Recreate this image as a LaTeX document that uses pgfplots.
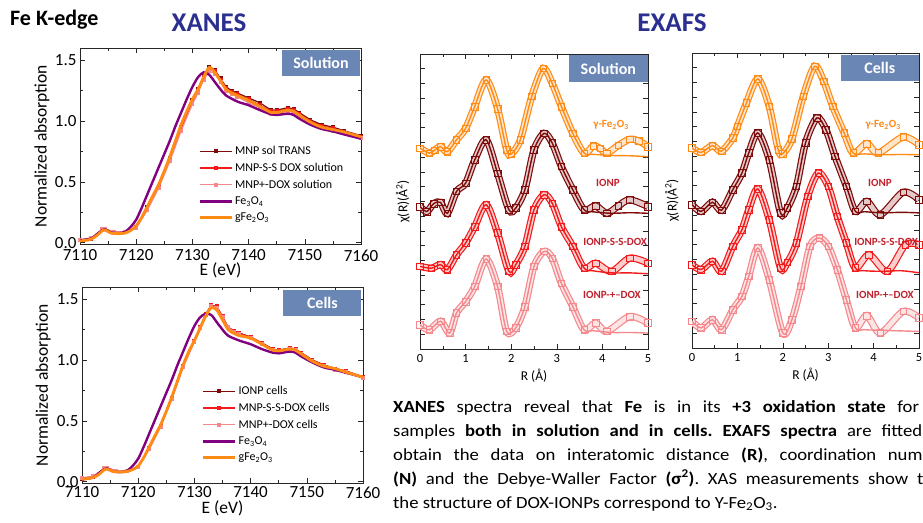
\documentclass[border=0pt]{standalone}
\usepackage{pgfplots}
\pgfplotsset{compat=1.18}
\usepackage{pgfplotstable}
\usepackage{fontspec}
\setmainfont{Carlito}
\newfontfamily\parafont[FakeStretch=1.1]{Carlito}
\definecolor{navy}{HTML}{2B3090}
\definecolor{boxblue}{HTML}{6A86B5}
\definecolor{cpurple}{HTML}{800080}
\definecolor{corange}{HTML}{FF8A14}
\definecolor{cdark}{HTML}{7E0A0A}
\definecolor{cred}{HTML}{F21A1A}
\definecolor{cpink}{HTML}{F4888C}
\definecolor{lblred}{HTML}{C0202C}

% ---------- EXAFS data (Solution) ----------
\pgfplotstableread{
R chi
0 6.81
0.2 6.64
0.32 6.74
0.45 6.86
0.6 6.69
0.8 7.09
1.0 7.48
1.2 8.22
1.45 9.12
1.7 8.15
1.9 6.75
2.0 6.61
2.2 7.09
2.45 8.56
2.7 9.51
2.9 9.0
3.1 8.22
3.35 7.31
3.6 6.64
3.8 6.88
3.95 6.8
4.1 6.64
4.35 6.9
4.6 7.11
4.8 7.05
5.0 6.86
}\SolGam
\pgfplotstableread{
R chi
0 6.81
0.2 6.64
0.32 6.74
0.45 6.86
0.6 6.69
0.8 7.09
1.0 7.48
1.2 8.22
1.45 9.12
1.7 8.15
1.9 6.75
2.0 6.61
2.2 7.09
2.45 8.56
2.7 9.51
2.9 9.0
3.1 8.22
3.35 7.31
3.6 6.64
3.8 6.6
4.2 6.56
4.6 6.55
5.0 6.52
}\SolGamFit
\pgfplotstableread{
R chi
0 4.83
0.15 4.66
0.3 4.93
0.45 4.97
0.6 4.6
0.8 5.34
1.0 5.62
1.2 6.41
1.45 7.09
1.7 5.96
1.95 4.72
2.1 4.78
2.3 5.4
2.5 6.75
2.72 7.31
2.9 6.98
3.1 6.19
3.35 5.4
3.6 4.72
3.85 4.85
4.1 4.6
4.35 4.85
4.6 5.06
5.0 4.83
}\SolIONP
\pgfplotstableread{
R chi
0 4.83
0.15 4.66
0.3 4.93
0.45 4.97
0.6 4.6
0.8 5.34
1.0 5.62
1.2 6.41
1.45 7.09
1.7 5.96
1.95 4.72
2.1 4.78
2.3 5.4
2.5 6.75
2.72 7.31
2.9 6.98
3.1 6.19
3.35 5.4
3.6 4.72
3.8 4.65
4.2 4.6
4.6 4.62
5.0 4.6
}\SolIONPFit
\pgfplotstableread{
R chi
0 2.8
0.25 2.74
0.45 2.86
0.6 2.69
0.8 3.19
1.0 3.59
1.2 4.15
1.45 4.89
1.7 3.93
1.95 2.63
2.1 2.86
2.3 3.48
2.5 4.72
2.72 5.23
2.9 4.94
3.1 4.15
3.35 3.48
3.6 2.74
3.85 2.91
4.2 2.63
4.6 3.08
5.0 2.91
}\SolSS
\pgfplotstableread{
R chi
0 2.8
0.25 2.74
0.45 2.86
0.6 2.69
0.8 3.19
1.0 3.59
1.2 4.15
1.45 4.89
1.7 3.93
1.95 2.63
2.1 2.86
2.3 3.48
2.5 4.72
2.72 5.23
2.9 4.94
3.1 4.15
3.35 3.48
3.6 2.74
3.8 2.65
4.2 2.58
4.6 2.58
5.0 2.55
}\SolSSFit
\pgfplotstableread{
R chi
0 0.82
0.2 0.65
0.45 0.94
0.65 0.54
0.8 1.22
1.0 1.61
1.2 2.12
1.45 3.05
1.7 2.12
1.9 0.6
2.1 0.72
2.3 1.44
2.5 2.8
2.72 3.31
2.9 3.08
3.1 2.23
3.35 1.44
3.6 0.65
3.85 0.88
4.1 0.6
4.6 1.1
5.0 0.88
}\SolPD
\pgfplotstableread{
R chi
0 0.82
0.2 0.65
0.45 0.94
0.65 0.54
0.8 1.22
1.0 1.61
1.2 2.12
1.45 3.05
1.7 2.12
1.9 0.6
2.1 0.72
2.3 1.44
2.5 2.8
2.72 3.31
2.9 3.08
3.1 2.23
3.35 1.44
3.6 0.65
3.8 0.62
4.2 0.56
4.6 0.56
5.0 0.54
}\SolPDFit

% ---------- EXAFS data (Cells) ----------
\pgfplotstableread{
R chi
0 6.78
0.2 6.63
0.45 6.86
0.65 6.67
0.9 7.12
1.0 7.51
1.2 8.31
1.45 9.12
1.7 8.19
1.9 6.72
2.0 6.59
2.2 7.09
2.45 8.53
2.7 9.55
2.9 9.04
3.1 8.19
3.35 7.29
3.55 6.61
3.85 6.93
4.1 6.61
4.65 7.15
5.0 6.89
}\CelGam
\pgfplotstableread{
R chi
0 6.78
0.2 6.63
0.45 6.86
0.65 6.67
0.9 7.12
1.0 7.51
1.2 8.31
1.45 9.12
1.7 8.19
1.9 6.72
2.0 6.59
2.2 7.09
2.45 8.53
2.7 9.55
2.9 9.04
3.1 8.19
3.35 7.29
3.55 6.61
3.8 6.58
4.2 6.55
4.6 6.56
5.0 6.55
}\CelGamFit
\pgfplotstableread{
R chi
0 4.86
0.2 4.63
0.45 4.94
0.65 4.67
0.9 5.37
1.1 5.93
1.25 6.61
1.45 7.29
1.7 6.38
1.95 4.58
2.1 4.75
2.3 5.48
2.5 6.95
2.75 7.8
2.95 7.4
3.15 6.5
3.4 5.48
3.6 4.63
3.85 4.97
4.15 4.52
4.65 5.28
5.0 5.03
}\CelIONP
\pgfplotstableread{
R chi
0 4.86
0.2 4.63
0.45 4.94
0.65 4.67
0.9 5.37
1.1 5.93
1.25 6.61
1.45 7.29
1.7 6.38
1.95 4.58
2.1 4.75
2.3 5.48
2.5 6.95
2.75 7.8
2.95 7.4
3.15 6.5
3.4 5.48
3.6 4.63
3.8 4.62
4.2 4.58
4.6 4.6
5.0 4.58
}\CelIONPFit
\pgfplotstableread{
R chi
0 2.82
0.2 2.66
0.45 2.94
0.65 2.6
0.9 3.45
1.1 4.01
1.25 4.69
1.45 5.39
1.7 4.35
1.95 2.71
2.1 2.9
2.3 3.56
2.55 5.14
2.78 5.93
3.0 5.48
3.2 4.46
3.4 3.56
3.6 2.71
3.9 3.16
4.3 2.6
4.7 3.5
5.0 3.5
}\CelSS
\pgfplotstableread{
R chi
0 2.82
0.2 2.66
0.45 2.94
0.65 2.6
0.9 3.45
1.1 4.01
1.25 4.69
1.45 5.39
1.7 4.35
1.95 2.71
2.1 2.9
2.3 3.56
2.55 5.14
2.78 5.93
3.0 5.48
3.2 4.46
3.4 3.56
3.6 2.71
3.8 2.62
4.2 2.6
4.6 2.62
5.0 2.55
}\CelSSFit
\pgfplotstableread{
R chi
0 0.9
0.2 0.68
0.45 0.96
0.65 0.62
0.9 1.3
1.1 1.75
1.25 2.43
1.45 3.39
1.7 2.32
2.0 0.51
2.2 0.96
2.4 2.09
2.6 3.45
2.8 3.73
3.0 3.45
3.2 2.66
3.4 1.64
3.6 0.68
3.85 1.1
4.15 0.51
4.65 1.24
5.0 1.02
}\CelPD
\pgfplotstableread{
R chi
0 0.9
0.2 0.68
0.45 0.96
0.65 0.62
0.9 1.3
1.1 1.75
1.25 2.43
1.45 3.39
1.7 2.32
2.0 0.51
2.2 0.96
2.4 2.09
2.6 3.45
2.8 3.73
3.0 3.45
3.2 2.66
3.4 1.64
3.6 0.68
3.8 0.62
4.2 0.6
4.6 0.58
5.0 0.56
}\CelPDFit

\tikzset{
 boxlbl/.style={fill=boxblue, text=white, font=\bfseries\fontsize{16}{19}\selectfont,
   minimum width=78pt, minimum height=26pt, anchor=north east, inner sep=0pt},
 smplbl/.style={font=\bfseries\fontsize{11}{13}\selectfont, inner sep=0pt},
}

\pgfplotsset{
 common/.style={
  scale only axis, anchor=south west,
  tick align=inside, major tick length=5pt, minor tick length=3pt,
  axis line style={line width=0.8pt, black!85},
  every tick/.style={line width=0.6pt, black!85},
  clip mode=individual,
 },
 xanes/.style={common,
  width=281pt, height=196pt,
  xmin=7110, xmax=7160, ymin=-0.01, ymax=1.6,
  xtick={7110,7120,7130,7140,7150,7160},
  xticklabels={7110,7120,7130,7140,7150,7160},
  ytick={0,0.5,1,1.5}, yticklabels={0.0,0.5,1.0,1.5},
  minor x tick num=1, minor y tick num=1,
  tick label style={font=\fontsize{17}{20}\selectfont},
  label style={font=\fontsize{17.5}{21}\selectfont},
  xlabel={E (eV)}, ylabel={Normalized absorption},
  legend style={draw=none, fill=none, font=\fontsize{12}{14}\selectfont,
     row sep=3pt, inner sep=0pt, anchor=north west},
  legend cell align=left,
  legend image code/.code={\draw[mark repeat=2, mark phase=2, ##1] plot coordinates {(0pt,0pt) (16pt,0pt) (32pt,0pt)};},
 },
 exafs/.style={common,
  width=228pt, height=295pt,
  xmin=0, xmax=5, ymin=0, ymax=10,
  xtick={0,1,2,3,4,5}, minor x tick num=1,
  ytick={0,0.5,...,10}, yticklabels={},
  tick label style={font=\fontsize{12.5}{15}\selectfont},
  label style={font=\fontsize{13.5}{16}\selectfont},
  xlabel={R (Å)}, ylabel={χ(R)(Å\textsuperscript{2})},
  /pgf/number format/assume math mode=true,
  xticklabel style={yshift=-2pt},
  xlabel style={at={(axis description cs:0.5,-0.09)}, anchor=center},
 },
 dat/.style={line width=1.2pt, mark=square*, mark size=1.4pt, #1, mark options={fill=#1, draw=#1}},
 tube/.style={smooth, line width=1.2pt, double=#1!22!white, double distance=4.8pt, draw=#1},
 sq/.style={only marks, mark=square, mark size=3.3pt, mark options={draw=#1, line width=0.6pt}},
 fit/.style={smooth, line width=1.4pt, draw=#1},
}

\begin{document}
\begin{tikzpicture}[x=1pt,y=1pt]
\useasboundingbox (0pt,0pt) rectangle (923pt,522pt);
\node[anchor=west, font=\bfseries\fontsize{22}{26}\selectfont, inner sep=0pt] at (10pt,502pt) {Fe K-edge};
\node[font=\bfseries\fontsize{27}{32}\selectfont, text=navy, inner sep=0pt] at (209pt,499pt) {XANES};
\node[font=\bfseries\fontsize{27}{32}\selectfont, text=navy, inner sep=0pt] at (672pt,499pt) {EXAFS};

% ===== XANES Solution =====
\begin{axis}[xanes, at={(80pt,278pt)},
  xticklabel style={yshift=-2pt},
  xlabel style={at={(axis description cs:0.5,-0.135)}, anchor=center},
  ylabel style={at={(axis description cs:-0.135,0.5)}, anchor=center},
  legend style={at={(axis description cs:0.42,0.51)}}]
\addplot[dat=cdark] coordinates {(7110,0.02) (7112,0.035) (7114,0.105) (7114.5,0.11) (7116,0.085) (7118,0.085) (7120,0.13) (7122,0.29) (7124,0.47) (7126,0.70) (7128,0.95) (7130,1.17) (7131,1.26) (7132,1.37) (7133,1.44) (7134,1.42) (7135,1.35) (7136,1.28) (7137,1.25) (7138,1.23) (7140,1.19) (7142,1.15) (7144,1.09) (7145,1.09) (7147,1.11) (7148,1.10) (7149,1.07) (7151,1.01) (7153,0.97) (7155,0.95) (7157,0.92) (7160,0.88)};
\addlegendentry{MNP sol TRANS}
\addplot[dat=cred] coordinates {(7110,0.02) (7112,0.035) (7114,0.105) (7114.5,0.11) (7116,0.085) (7118,0.085) (7120,0.13) (7122,0.28) (7124,0.46) (7126,0.69) (7128,0.94) (7130,1.16) (7131,1.25) (7132,1.36) (7133,1.43) (7134,1.41) (7135,1.34) (7136,1.27) (7137,1.24) (7138,1.22) (7140,1.18) (7142,1.13) (7144,1.08) (7145,1.08) (7147,1.10) (7148,1.09) (7149,1.06) (7151,1.00) (7153,0.96) (7155,0.94) (7157,0.91) (7160,0.87)};
\addlegendentry{MNP-S-S DOX solution}
\addplot[dat=cpink] coordinates {(7110,0.025) (7112,0.04) (7114,0.11) (7114.5,0.115) (7116,0.09) (7118,0.09) (7120,0.12) (7122,0.27) (7124,0.45) (7126,0.67) (7128,0.92) (7130,1.14) (7131,1.23) (7132,1.34) (7133,1.41) (7134,1.39) (7135,1.32) (7136,1.25) (7137,1.22) (7138,1.20) (7140,1.15) (7142,1.11) (7144,1.06) (7145,1.06) (7147,1.08) (7148,1.07) (7149,1.04) (7151,0.98) (7153,0.94) (7155,0.92) (7157,0.90) (7160,0.86)};
\addlegendentry{MNP+-DOX solution}
\addplot[smooth, cpurple, line width=2.4pt] coordinates {(7110,0.02) (7112,0.035) (7113,0.07) (7114,0.105) (7114.5,0.11) (7115.5,0.085) (7117,0.08) (7118,0.09) (7119,0.13) (7120,0.19) (7121,0.29) (7122,0.40) (7123,0.51) (7124,0.62) (7125,0.73) (7126,0.84) (7127,0.96) (7128,1.07) (7129,1.18) (7130,1.28) (7131,1.36) (7132,1.40) (7133,1.38) (7134,1.32) (7135,1.26) (7136,1.21) (7138,1.16) (7140,1.13) (7142,1.09) (7144,1.055) (7145,1.05) (7147,1.06) (7148,1.05) (7149,1.02) (7151,0.97) (7153,0.935) (7155,0.915) (7157,0.89) (7160,0.855)};
\addlegendentry{Fe\textsubscript{3}O\textsubscript{4}}
\addplot[smooth, corange, line width=2.8pt] coordinates {(7110,0.015) (7111,0.02) (7112,0.03) (7113,0.06) (7114,0.10) (7114.5,0.105) (7115.5,0.08) (7117,0.075) (7118,0.08) (7119,0.10) (7120,0.14) (7121,0.21) (7122,0.30) (7123,0.39) (7124,0.48) (7125,0.59) (7126,0.71) (7127,0.84) (7128,0.97) (7129,1.08) (7130,1.18) (7131,1.26) (7132,1.36) (7133,1.44) (7134,1.40) (7135,1.33) (7136,1.26) (7137,1.23) (7138,1.21) (7140,1.17) (7142,1.12) (7144,1.07) (7145,1.07) (7147,1.09) (7148,1.08) (7149,1.05) (7151,0.99) (7153,0.95) (7155,0.93) (7157,0.91) (7160,0.87)};
\addlegendentry{gFe\textsubscript{2}O\textsubscript{3}}
\node[boxlbl] at (rel axis cs:0.997,0.99) {Solution};
\end{axis}

% ===== XANES Cells =====
\begin{axis}[xanes, at={(82pt,39pt)},
  xlabel style={at={(axis description cs:0.5,-0.128)}, anchor=center},
  ylabel style={at={(axis description cs:-0.138,0.5)}, anchor=center},
  legend style={at={(axis description cs:0.426,0.505)}}]
\addplot[dat=cdark] coordinates {(7110,0.025) (7112,0.04) (7114,0.105) (7114.5,0.11) (7116,0.085) (7118,0.085) (7120,0.125) (7122,0.28) (7124,0.46) (7126,0.69) (7128,0.95) (7130,1.16) (7131,1.26) (7132,1.37) (7133,1.44) (7134,1.43) (7135,1.35) (7136,1.27) (7137,1.24) (7138,1.22) (7140,1.19) (7142,1.14) (7144,1.09) (7145,1.08) (7147,1.10) (7148,1.09) (7149,1.06) (7151,1.00) (7153,0.96) (7155,0.93) (7157,0.91) (7160,0.86)};
\addlegendentry{IONP cells}
\addplot[dat=cred] coordinates {(7110,0.03) (7112,0.045) (7114,0.11) (7114.5,0.115) (7116,0.09) (7118,0.09) (7120,0.125) (7122,0.28) (7124,0.46) (7126,0.69) (7128,0.95) (7130,1.16) (7131,1.27) (7132,1.38) (7133,1.45) (7134,1.44) (7135,1.36) (7136,1.27) (7137,1.24) (7138,1.22) (7140,1.19) (7142,1.14) (7144,1.09) (7145,1.08) (7147,1.10) (7148,1.09) (7149,1.06) (7151,1.00) (7153,0.96) (7155,0.93) (7157,0.91) (7160,0.86)};
\addlegendentry{MNP-S-S-DOX cells}
\addplot[dat=cpink] coordinates {(7110,0.03) (7112,0.045) (7114,0.11) (7114.5,0.115) (7116,0.09) (7118,0.09) (7120,0.12) (7122,0.27) (7124,0.45) (7126,0.68) (7128,0.94) (7130,1.15) (7131,1.26) (7132,1.37) (7133,1.44) (7134,1.43) (7135,1.35) (7136,1.27) (7137,1.23) (7138,1.21) (7140,1.18) (7142,1.13) (7144,1.08) (7145,1.07) (7147,1.09) (7148,1.08) (7149,1.05) (7151,0.99) (7153,0.95) (7155,0.92) (7157,0.90) (7160,0.85)};
\addlegendentry{MNP+-DOX cells}
\addplot[smooth, cpurple, line width=2.4pt] coordinates {(7110,0.02) (7112,0.035) (7113,0.07) (7114,0.105) (7114.5,0.11) (7115.5,0.085) (7117,0.08) (7118,0.09) (7119,0.13) (7120,0.19) (7121,0.29) (7122,0.40) (7123,0.51) (7124,0.62) (7125,0.73) (7126,0.84) (7127,0.96) (7128,1.07) (7129,1.18) (7130,1.28) (7131,1.35) (7132,1.38) (7133,1.37) (7134,1.31) (7135,1.25) (7136,1.20) (7138,1.16) (7140,1.13) (7142,1.09) (7144,1.06) (7145,1.055) (7147,1.07) (7148,1.06) (7149,1.03) (7151,0.98) (7153,0.94) (7155,0.92) (7157,0.895) (7160,0.86)};
\addlegendentry{Fe\textsubscript{3}O\textsubscript{4}}
\addplot[smooth, corange, line width=2.8pt] coordinates {(7110,0.02) (7112,0.035) (7113,0.06) (7114,0.10) (7114.5,0.105) (7115.5,0.085) (7117,0.08) (7118,0.085) (7119,0.10) (7120,0.13) (7121,0.20) (7122,0.29) (7123,0.38) (7124,0.47) (7125,0.58) (7126,0.70) (7127,0.83) (7128,0.96) (7129,1.07) (7130,1.16) (7131,1.26) (7132,1.36) (7133,1.43) (7134,1.41) (7135,1.33) (7136,1.25) (7137,1.22) (7138,1.20) (7140,1.18) (7142,1.13) (7144,1.08) (7145,1.075) (7147,1.09) (7148,1.08) (7149,1.05) (7151,0.99) (7153,0.95) (7155,0.93) (7157,0.90) (7160,0.86)};
\addlegendentry{gFe\textsubscript{2}O\textsubscript{3}}
\node[boxlbl] at (rel axis cs:0.995,0.985) {Cells};
\end{axis}

% ===== EXAFS Solution =====
\begin{axis}[exafs, at={(420pt,173pt)},
  ylabel style={at={(axis description cs:-0.075,0.5)}, anchor=center}]
\addplot[tube=corange] table[x=R,y=chi] {\SolGam};
\addplot[sq=corange] table[x=R,y=chi] {\SolGam};
\addplot[fit=corange] table[x=R,y=chi] {\SolGamFit};
\addplot[tube=cdark] table[x=R,y=chi] {\SolIONP};
\addplot[sq=cdark] table[x=R,y=chi] {\SolIONP};
\addplot[fit=cdark] table[x=R,y=chi] {\SolIONPFit};
\addplot[tube=cred] table[x=R,y=chi] {\SolSS};
\addplot[sq=cred] table[x=R,y=chi] {\SolSS};
\addplot[fit=cred] table[x=R,y=chi] {\SolSSFit};
\addplot[tube=cpink] table[x=R,y=chi] {\SolPD};
\addplot[sq=cpink] table[x=R,y=chi] {\SolPD};
\addplot[fit=cpink] table[x=R,y=chi] {\SolPDFit};
\node[boxlbl, minimum width=79pt, minimum height=27pt] at (rel axis cs:1,0.997) {Solution};
\node[smplbl, text=corange] at (axis cs:4.19,7.59) {γ-Fe\textsubscript{2}O\textsubscript{3}};
\node[smplbl, text=lblred] at (axis cs:4.12,5.63) {IONP};
\node[smplbl, text=lblred] at (axis cs:4.28,3.63) {IONP-S-S-DOX};
\node[smplbl, text=lblred] at (axis cs:4.21,1.83) {IONP-+--DOX};
\end{axis}

% ===== EXAFS Cells =====
\begin{axis}[exafs, at={(692pt,174pt)}, width=227pt,
  ylabel style={at={(axis description cs:-0.088,0.5)}, anchor=center}]
\addplot[tube=corange] table[x=R,y=chi] {\CelGam};
\addplot[sq=corange] table[x=R,y=chi] {\CelGam};
\addplot[fit=corange] table[x=R,y=chi] {\CelGamFit};
\addplot[tube=cdark] table[x=R,y=chi] {\CelIONP};
\addplot[sq=cdark] table[x=R,y=chi] {\CelIONP};
\addplot[fit=cdark] table[x=R,y=chi] {\CelIONPFit};
\addplot[tube=cred] table[x=R,y=chi] {\CelSS};
\addplot[sq=cred] table[x=R,y=chi] {\CelSS};
\addplot[fit=cred] table[x=R,y=chi] {\CelSSFit};
\addplot[tube=cpink] table[x=R,y=chi] {\CelPD};
\addplot[sq=cpink] table[x=R,y=chi] {\CelPD};
\addplot[fit=cpink] table[x=R,y=chi] {\CelPDFit};
\node[boxlbl, minimum width=78pt, minimum height=26pt] at (rel axis cs:1,0.993) {Cells};
\node[smplbl, text=corange] at (axis cs:4.21,7.56) {γ-Fe\textsubscript{2}O\textsubscript{3}};
\node[smplbl, text=lblred] at (axis cs:4.14,5.59) {IONP};
\node[smplbl, text=lblred, anchor=west] at (axis cs:3.57,3.59) {IONP-S-S-DOX};
\node[smplbl, text=lblred] at (axis cs:4.25,1.8) {IONP-+--DOX};
\end{axis}

% ===== paragraph =====
\node[anchor=north west, inner sep=0pt, font=\parafont\fontsize{17}{24}\selectfont] at (393pt,122pt)
{\parbox{555pt}{\frenchspacing\textbf{XANES} spectra reveal that \textbf{Fe} is in its \textbf{+3 oxidation state} for all\linebreak
samples \textbf{both in solution and in cells. EXAFS spectra} are fitted to\linebreak
obtain the data on interatomic distance \textbf{(R)}, coordination number\linebreak
\textbf{(N)} and the Debye-Waller Factor \textbf{(σ\textsuperscript{2})}. XAS measurements show that\linebreak
the structure of DOX-IONPs correspond to Υ-Fe\textsubscript{2}O\textsubscript{3}.}};
\end{tikzpicture}
\end{document}
